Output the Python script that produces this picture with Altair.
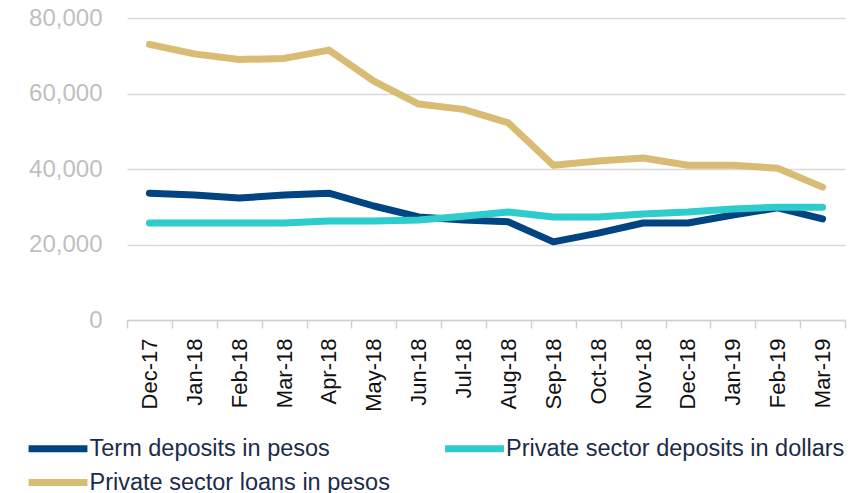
import altair as alt
import pandas as pd

months = ["Dec-17", "Jan-18", "Feb-18", "Mar-18", "Apr-18", "May-18", "Jun-18", "Jul-18",
          "Aug-18", "Sep-18", "Oct-18", "Nov-18", "Dec-18", "Jan-19", "Feb-19", "Mar-19"]

term_deposits_pesos = [33600, 33100, 32300, 33100, 33600, 30200, 27300, 26500,
                       26000, 20700, 23000, 25700, 25700, 27800, 29700, 26800]
deposits_dollars = [25700, 25700, 25700, 25700, 26200, 26200, 26500, 27500,
                    28600, 27300, 27300, 28100, 28600, 29400, 29900, 29900]
loans_pesos = [73000, 70500, 69000, 69300, 71500, 63300, 57200, 55800,
               52200, 41000, 42100, 42900, 41000, 41000, 40200, 35200]

series_names = ["Term deposits in pesos", "Private sector deposits in dollars",
                "Private sector loans in pesos"]
series_colors = ["#004481", "#2ECCCC", "#D9BC74"]
y_ticks = [0, 20000, 40000, 60000, 80000]

rows = []
for name, vals in zip(series_names, [term_deposits_pesos, deposits_dollars, loans_pesos]):
    for i, (m, v) in enumerate(zip(months, vals)):
        rows.append({"month": m, "value": v, "series": name, "order": i})
df = pd.DataFrame(rows)

font = "Liberation Sans"

chart = alt.Chart(df).mark_line(strokeWidth=7, strokeCap="round", strokeJoin="round").encode(
    x=alt.X("month:N", sort=months, bandPosition=0.5,
            scale=alt.Scale(type="band", paddingInner=0, paddingOuter=0),
            axis=alt.Axis(title=None, labelAngle=-90, labelFontSize=22, labelColor="#111111",
                          labelFont=font, tickBand="extent", tickSize=8, tickColor="#d0d0d0",
                          tickWidth=1.5, domainColor="#d0d0d0", domainWidth=1.5, labelPadding=10,
                          grid=False)),
    y=alt.Y("value:Q", scale=alt.Scale(domain=[0, 80000], nice=False),
            axis=alt.Axis(title=None, values=y_ticks, format=",.0f", labelFontSize=24,
                          labelColor="#BFBFBF", labelFont=font, labelPadding=25, ticks=False,
                          domain=False, gridColor="#D9D9D9", gridWidth=1.5)),
    color=alt.Color("series:N", sort=series_names,
                    scale=alt.Scale(domain=series_names, range=series_colors),
                    legend=alt.Legend(title=None, orient="none", legendX=-88.5, legendY=411,
                                      direction="horizontal",
                                      columns=2, columnPadding=40.5,
                                      rowPadding=0, symbolType="M-1.84,0H1.84", symbolSize=1024,
                                      symbolStrokeWidth=7, labelFontSize=23.5, labelFont=font,
                                      labelColor="#1C2B4A", labelOffset=12, labelLimit=0)),
    order="order:Q",
).properties(
    width=718, height=302,
    autosize=alt.AutoSizeParams(type="none"),
    padding={"left": 119, "top": 10, "right": 7, "bottom": 173},
).configure_view(stroke=None)

chart.save("out.html", embed_options={"renderer": "svg", "actions": False})
